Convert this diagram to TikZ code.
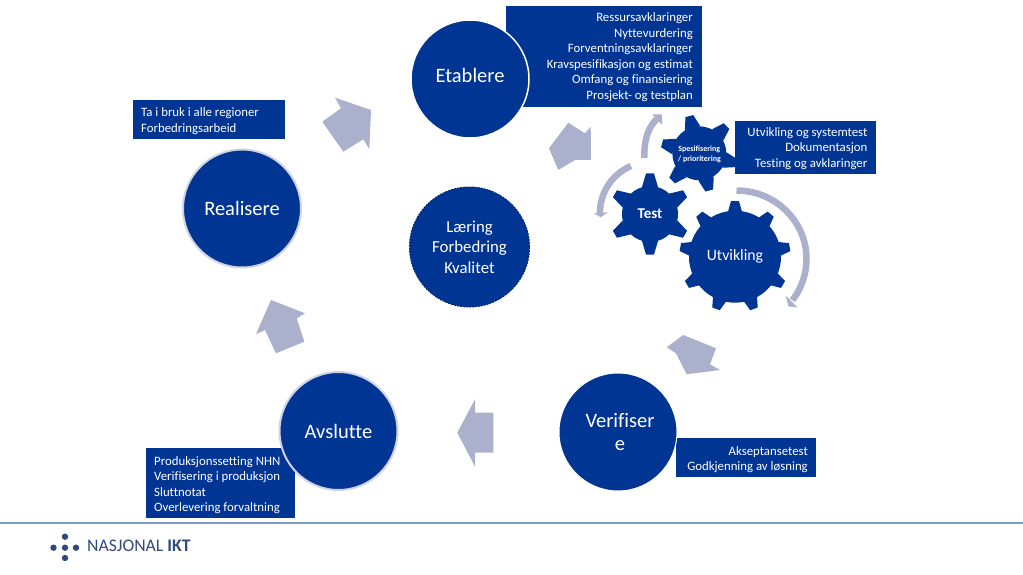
\documentclass[tikz,border=0pt]{standalone}
\usepackage{fontspec}
\setmainfont[Ligatures=NoCommon]{Carlito}
\definecolor{navy}{HTML}{003594}
\definecolor{arrowgrey}{HTML}{ABB0CD}
\definecolor{ringgrey}{HTML}{D0D3E4}
\definecolor{rulecol}{HTML}{7C9CC8}
\definecolor{logoblue}{HTML}{2F4A7C}
\tikzset{
  bigcirc/.style={circle,fill=navy,text=white,minimum size=118pt,inner sep=0pt,font=\fontsize{20.5}{23}\selectfont,align=center},
  ringcirc/.style={bigcirc,draw=ringgrey,line width=2pt},
  infotext/.style={text=white,inner sep=0pt,font=\fontsize{12.8}{15.5}\selectfont},
  flowarrow/.style={fill=arrowgrey,draw=none},
  curvearrow/.style={draw=arrowgrey,line width=6.5pt},
  curvehead/.style={fill=arrowgrey,draw=none},
  geartext/.style={text=white,inner sep=0pt,align=center},
  logodot/.style={fill=logoblue,draw=none}
}
% gear: cx, cy, teeth, root r, tip r, first tooth angle, half base, half tip
\newcommand{\geardraw}[8]{%
  \fill[navy] (#1,#2) circle (#4);
  \pgfmathsetmacro{\gstep}{360/#3}%
  \pgfmathtruncatemacro{\gn}{#3-1}%
  \foreach \gi in {0,...,\gn}{%
    \pgfmathsetmacro{\ga}{#6+\gi*\gstep}%
    \pgfmathsetmacro{\gc}{cos(\ga)}%
    \pgfmathsetmacro{\gs}{sin(\ga)}%
    \pgfmathsetmacro{\gr}{#4-1}%
    \fill[navy]
      ({#1+\gr*\gc-#7*\gs},{#2-\gr*\gs-#7*\gc}) --
      ({#1+#5*\gc-#8*\gs},{#2-#5*\gs-#8*\gc}) --
      ({#1+#5*\gc+#8*\gs},{#2-#5*\gs+#8*\gc}) --
      ({#1+\gr*\gc+#7*\gs},{#2-\gr*\gs+#7*\gc}) -- cycle;
  }%
}
\begin{document}
\begin{tikzpicture}[x=1pt,y=-1pt]
\useasboundingbox (0,0) rectangle (1023,575);
\fill[white] (0,0) rectangle (1023,575);

% footer
\draw[rulecol,line width=1.2pt] (0,523) -- (1023,523);
\fill[logodot] (65,536.7) circle (3.2);
\fill[logodot] (65,558) circle (3.2);
\fill[logodot] (53.5,547.7) circle (3.2);
\fill[logodot] (65,547.7) circle (3.2);
\fill[logodot] (76,547.7) circle (3.2);
\node[anchor=west,inner sep=0pt,text=logoblue,font=\fontsize{17.7}{20}\selectfont] (logo) at (87,546) {NASJONAL \textbf{IKT}};

% info boxes behind circles
\fill[navy] (506,6) rectangle (702,107);
\fill[navy] (133,100) rectangle (285,139);
\fill[navy] (146,448) rectangle (295,518);
\fill[navy] (676,438) rectangle (816,477);

% circles
\node[bigcirc,draw=white,line width=1.5pt] (etablere) at (470,79) {\raisebox{7pt}{Etablere}};
\node[ringcirc] (realisere) at (242,208.5) {Realisere};
\node[ringcirc] (avslutte) at (338.5,431) {Avslutte};
\node[bigcirc,draw=white,line width=1pt] (verifiser) at (618,432) {\hspace*{4pt}Verifiser\\\hspace*{4pt}e};
\node[bigcirc,minimum size=120pt,draw=navy!75!black,dash pattern=on 2pt off 1pt,line width=1pt,font=\fontsize{16.8}{20.5}\selectfont] (sentrum) at (469.5,247) {Læring\\Forbedring\\Kvalitet};

% box texts
\node[infotext,anchor=east,align=right] (t1) at (693,57) {Ressursavklaringer\\Nyttevurdering\\Forventningsavklaringer\\Kravspesifikasjon og estimat\\Omfang og finansiering\\Prosjekt- og testplan};
\node[infotext,anchor=west,align=left] (t2) at (141,121) {Ta i bruk i alle regioner\\Forbedringsarbeid};
\node[infotext,anchor=west,align=left] (t3) at (154,485) {Produksjonssetting NHN\\Verifisering i produksjon\\Sluttnotat\\Overlevering forvaltning};
\node[infotext,anchor=east,align=right] (t4) at (808,459.5) {Akseptansetest\\Godkjenning av løsning};

% flow arrows
\fill[flowarrow] (335,97.7) -- (371,110) -- (369.3,149) -- (363.3,139.3) -- (343.3,151.7) -- (322.3,121.7) -- (341,108.3) -- cycle;
\fill[flowarrow] (568.3,122.7) -- (585,133.3) -- (590.7,126.7) -- (591,160) -- (575,160) -- (558.3,170) -- (549,148.3) -- cycle;
\fill[flowarrow] (683.3,335) -- (716,348.3) -- (710,364.3) -- (720,370) -- (686.7,374.3) -- (676,353.3) -- (666.7,347.3) -- cycle;
\fill[flowarrow] (457.3,432.7) -- (475,399.3) -- (475,412.7) -- (493.3,412.7) -- (493.3,452.7) -- (475,452.7) -- (475,466.7) -- cycle;
\fill[flowarrow] (271,300) -- (305,313.3) -- (296.7,318.3) -- (304.3,341.7) -- (276,353.3) -- (265,330) -- (256,334) -- cycle;

% curved arrows
\draw[curvearrow] (736.5,190.5) arc[start angle=-90,end angle=37,x radius=70,y radius=68.5];
\fill[curvehead] (785.7,295.7) -- (797.3,307.3) -- (788.5,306.5) -- cycle;
\draw[curvearrow] (631,166) arc[start angle=-113,end angle=-180,radius=51];
\fill[curvehead] (594,213.3) -- (607.7,212.3) -- (600.7,217.3) -- cycle;
\draw[curvearrow] (644.3,158) .. controls (644,140) and (648,127) .. (657,119);
\fill[curvehead] (652.3,114.3) -- (661.7,114.3) -- (662.3,125) -- cycle;

% gears
\geardraw{650}{214}{6}{28}{40.5}{90}{8}{4}
\geardraw{735}{256.7}{9}{46}{55.5}{90}{7}{4}
\geardraw{699.3}{153.3}{6}{27}{38.5}{105}{8}{4}
\fill[navy] (735,121) rectangle (876,174);

% gear and box texts
\node[geartext,font=\bfseries\fontsize{15}{17}\selectfont] (test) at (650,213.5) {Test};
\node[geartext,font=\fontsize{15.8}{17}\selectfont] (utvikling) at (735,256.5) {Utvikling};
\node[geartext,font=\bfseries\fontsize{8}{9.4}\selectfont] (spes) at (699.3,154.5) {Spesifisering\\/ prioritering};
\node[infotext,anchor=east,align=right] (t5) at (867.5,148.5) {Utvikling og systemtest\\Dokumentasjon\\Testing og avklaringer};
\end{tikzpicture}
\end{document}
